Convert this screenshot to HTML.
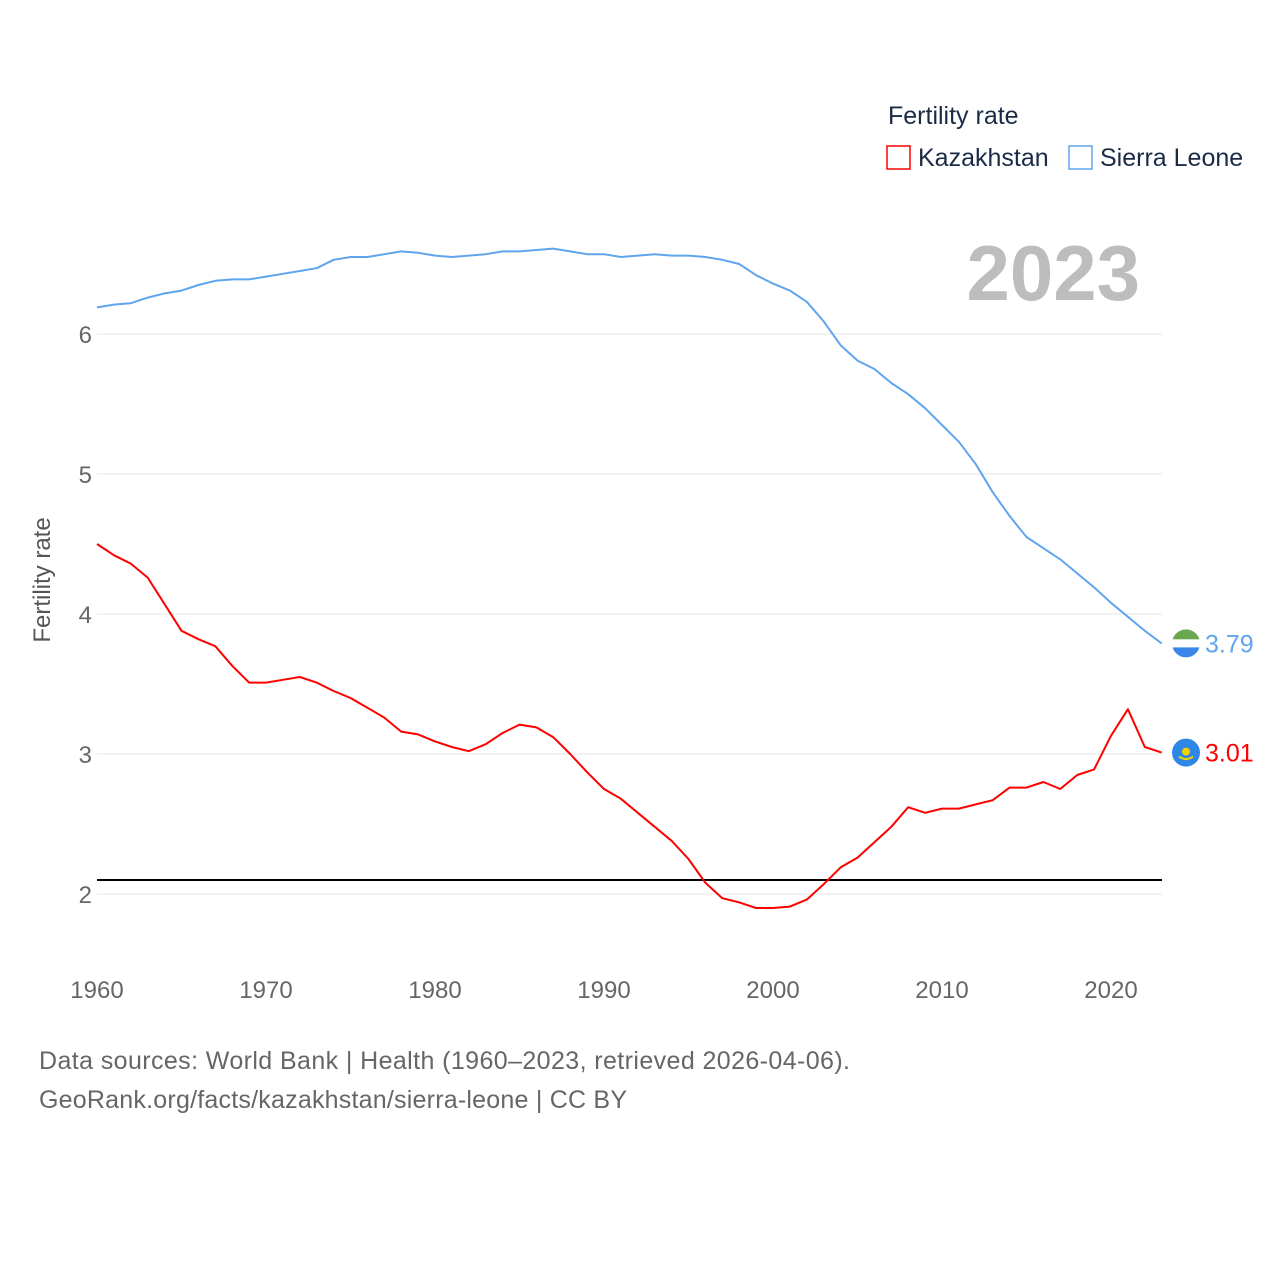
<!DOCTYPE html>
<html><head><meta charset="utf-8"><style>
body{margin:0;background:#fff;font-family:"Liberation Sans",sans-serif}
svg text{font-family:"Liberation Sans",sans-serif}
</style></head><body>
<svg id="chart" width="1280" height="1280" viewBox="0 0 1280 1280">
<g id="grid"></g>
<g id="axes"></g>
<g id="series"></g>
<text x="888" y="124" font-size="25" fill="#1c2b45">Fertility rate</text>
<g><rect x="887" y="146" width="23" height="23" fill="none" stroke="#f00" stroke-width="1.5"/><text x="918" y="166" font-size="25" fill="#1c2b45">Kazakhstan</text></g>
<g><rect x="1069" y="146" width="23" height="23" fill="none" stroke="#5fa5ee" stroke-width="1.5"/><text x="1100" y="166" font-size="25" fill="#1c2b45">Sierra Leone</text></g>
<text x="1140" y="300" font-size="78" font-weight="bold" fill="#bdbdbd" text-anchor="end">2023</text>
<text transform="translate(50,580) rotate(-90)" font-size="24" fill="#555" text-anchor="middle">Fertility rate</text>
<text x="39" y="1069" font-size="25" fill="#666" textLength="811">Data sources: World Bank | Health (1960–2023, retrieved 2026-04-06).</text>
<text x="39" y="1108" font-size="25" fill="#666" textLength="588">GeoRank.org/facts/kazakhstan/sierra-leone | CC BY</text>
</svg>
<script>
const years=[];for(let y=1960;y<=2023;y++)years.push(y);
const sierraLeone=[6.19,6.21,6.22,6.26,6.29,6.31,6.35,6.38,6.39,6.39,6.41,6.43,6.45,6.47,6.53,6.55,6.55,6.57,6.59,6.58,6.56,6.55,6.56,6.57,6.59,6.59,6.60,6.61,6.59,6.57,6.57,6.55,6.56,6.57,6.56,6.56,6.55,6.53,6.50,6.42,6.36,6.31,6.23,6.09,5.92,5.81,5.75,5.65,5.57,5.47,5.35,5.23,5.07,4.87,4.70,4.55,4.47,4.39,4.29,4.19,4.08,3.98,3.88,3.79];
const kazakhstan=[4.50,4.42,4.36,4.26,4.07,3.88,3.82,3.77,3.63,3.51,3.51,3.53,3.55,3.51,3.45,3.40,3.33,3.26,3.16,3.14,3.09,3.05,3.02,3.07,3.15,3.21,3.19,3.12,3.00,2.87,2.75,2.68,2.58,2.48,2.38,2.25,2.08,1.97,1.94,1.90,1.90,1.91,1.96,2.07,2.19,2.26,2.37,2.48,2.62,2.58,2.61,2.61,2.64,2.67,2.76,2.76,2.80,2.75,2.85,2.89,3.13,3.32,3.05,3.01];
const yTicks=[2,3,4,5,6];
const xTicks=[1960,1970,1980,1990,2000,2010,2020];
const replacementRate=2.1;
const NS="http://www.w3.org/2000/svg";
const xs=y=>97+(y-1960)*16.9;
const ys=v=>894-(v-2)*140;
function mk(tag,attrs,parent,text){const e=document.createElementNS(NS,tag);for(const k in attrs)e.setAttribute(k,attrs[k]);if(text!==undefined)e.textContent=text;parent.appendChild(e);return e;}
const grid=document.getElementById('grid'),axes=document.getElementById('axes'),ser=document.getElementById('series');
yTicks.forEach(t=>{
 const l=mk('line',{x1:97,x2:1162,y1:ys(t),y2:ys(t),stroke:'#e6e6e6','stroke-width':1},grid);
 
 
 const tx=mk('text',{x:92,y:ys(t)+9,'font-size':24,fill:'#666','text-anchor':'end'},axes,String(t));
 
 
});
xTicks.forEach(t=>{
 const tx=mk('text',{x:xs(t),y:998,'font-size':24,fill:'#666','text-anchor':'middle'},axes,String(t));
 
 
});
const ref=mk('line',{x1:97,x2:1162,y1:ys(replacementRate),y2:ys(replacementRate),stroke:'#000','stroke-width':2},ser);


function line(vals,color,name){
 const p=mk('polyline',{points:vals.map((v,i)=>xs(years[i])+','+ys(v)).join(' '),fill:'none',stroke:color,'stroke-width':2,'stroke-linejoin':'round'},ser);
 
 
 const last=vals[vals.length-1],cy=ys(last);
 const g=mk('g',{},ser);
 
 
 if(name==='sierra-leone'){
  mk('clipPath',{id:'slc'},g);mk('circle',{cx:1186,cy:cy,r:14},g.lastChild);
  const c=mk('g',{'clip-path':'url(#slc)'},g);
  mk('rect',{x:1172,y:cy-14,width:28,height:10,fill:'#6aa84f'},c);
  mk('rect',{x:1172,y:cy-4,width:28,height:8,fill:'#fff'},c);
  mk('rect',{x:1172,y:cy+4,width:28,height:10,fill:'#3a86e8'},c);
 }else{
  mk('circle',{cx:1186,cy:cy,r:14,fill:'#2e86e6'},g);
  mk('circle',{cx:1186,cy:cy-1,r:4,fill:'#f5d300'},g);
  mk('path',{d:`M1179 ${cy+4} Q1186 ${cy+9} 1193 ${cy+4}`,stroke:'#f5d300','stroke-width':2,fill:'none'},g);
 }
 const t=mk('text',{x:1205,y:cy+9,'font-size':25,fill:color},ser,last.toFixed(2));
 
 
}
line(sierraLeone,'#5fa5ee','sierra-leone');
line(kazakhstan,'#f00','kazakhstan');
</script>
</body></html>
